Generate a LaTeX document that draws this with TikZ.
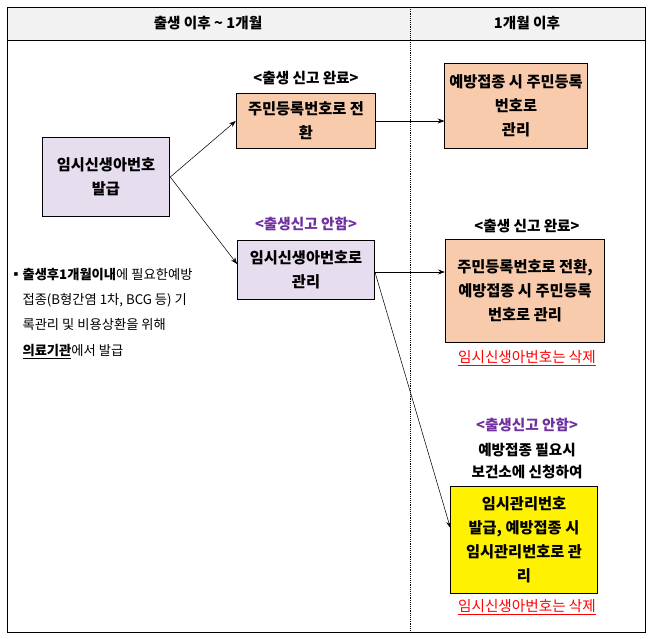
\documentclass[tikz,border=0pt]{standalone}
\usepackage{fontspec}
\setmainfont{Noto Sans CJK KR}
\usetikzlibrary{arrows.meta}
\definecolor{lav}{HTML}{E6DDEF}
\definecolor{peach}{HTML}{F9CBAD}
\definecolor{hdr}{HTML}{F2F2F2}
\definecolor{purp}{HTML}{7030A0}
\begin{document}
\begin{tikzpicture}[x=0.02646cm, y=-0.02646cm, font=\fontsize{11}{16}\selectfont,
    box/.style={draw, thick, font=\fontsize{11.5}{18}\selectfont\bfseries, align=center, inner sep=0pt},
    lbl/.style={font=\fontsize{11}{17}\selectfont\bfseries},
    del/.style={text=red, font=\fontsize{11}{17}\selectfont},
    arr/.style={-{Stealth[length=5pt]}}]
    % Frame and header
    \useasboundingbox (0,0) rectangle (652,638);
    \fill[hdr] (7,7) rectangle (645,40);
    \draw (7,7) rectangle (645,632);
    \draw (7,40) -- (645,40);
    \draw[densely dotted] (410,7) -- (410,632);
    \node[lbl] (h1) at (208,23) {출생 이후 \textasciitilde{} 1개월};
    \node[lbl] (h2) at (527,23) {1개월 이후};

    % Boxes
    \node[box, fill=lav, minimum width=96pt, minimum height=60pt] (issue) at (106,177) {임시신생아번호\\발급};
    \node[box, fill=peach, minimum width=105pt, minimum height=41pt] (conv) at (306,121) {주민등록번호로 전\\환};
    \node[box, fill=lav, minimum width=103pt, minimum height=45pt] (temp) at (306,270) {임시신생아번호로\\관리};
    \node[box, fill=peach, minimum width=107pt, minimum height=64pt] (resid) at (516,106) {예방접종 시 주민등록\\번호로\\관리};
    \node[box, fill=peach, minimum width=120pt, minimum height=77pt] (resid2) at (525,291) {주민등록번호로 전환,\\예방접종 시 주민등록\\번호로 관리};
    \node[box, fill=yellow, minimum width=110pt, minimum height=80pt] (mgmt) at (524,540) {임시관리번호\\발급, 예방접종 시\\임시관리번호로 관\\리};

    % Labels
    \node[lbl] (l1) at (306,78) {<출생 신고 완료>};
    \node[lbl, text=purp] (l2) at (306,224) {<출생신고 안함>};
    \node[lbl] (l3) at (527,226) {<출생 신고 완료>};
    \node[del] (d1) at (527,358) {\underline{임시신생아번호는 삭제}};
    \node[lbl, text=purp] (l4) at (527,425) {<출생신고 안함>};
    \node[lbl, align=center] (req) at (527,461) {예방접종 필요시\\보건소에 신청하여};
    \node[del] (d2) at (527,607) {\underline{임시신생아번호는 삭제}};
    \node[anchor=north west, align=left, inner sep=0pt, font=\fontsize{10}{19}\selectfont] (note) at (9,268)
      {▪\textbf{출생후1개월이내}에 필요한예방\\
       \hspace*{1em}접종(B형간염 1차, BCG 등) 기\\
       \hspace*{1em}록관리 및 비용상환을 위해\\
       \hspace*{1em}\textbf{\underline{의료기관}}에서 발급};

    % Arrows
    \draw[arr] (issue.east) -- (conv.west);
    \draw[arr] (issue.east) -- (temp.west |- 0,264);
    \draw[arr] (conv.east) -- (resid.west |- conv.east);
    \draw[arr] (temp.east |- 0,272) -- (resid2.west |- 0,272);
    \draw[arr] (temp.east |- 0,272) -- (mgmt.west |- 0,528);
\end{tikzpicture}
\end{document}
